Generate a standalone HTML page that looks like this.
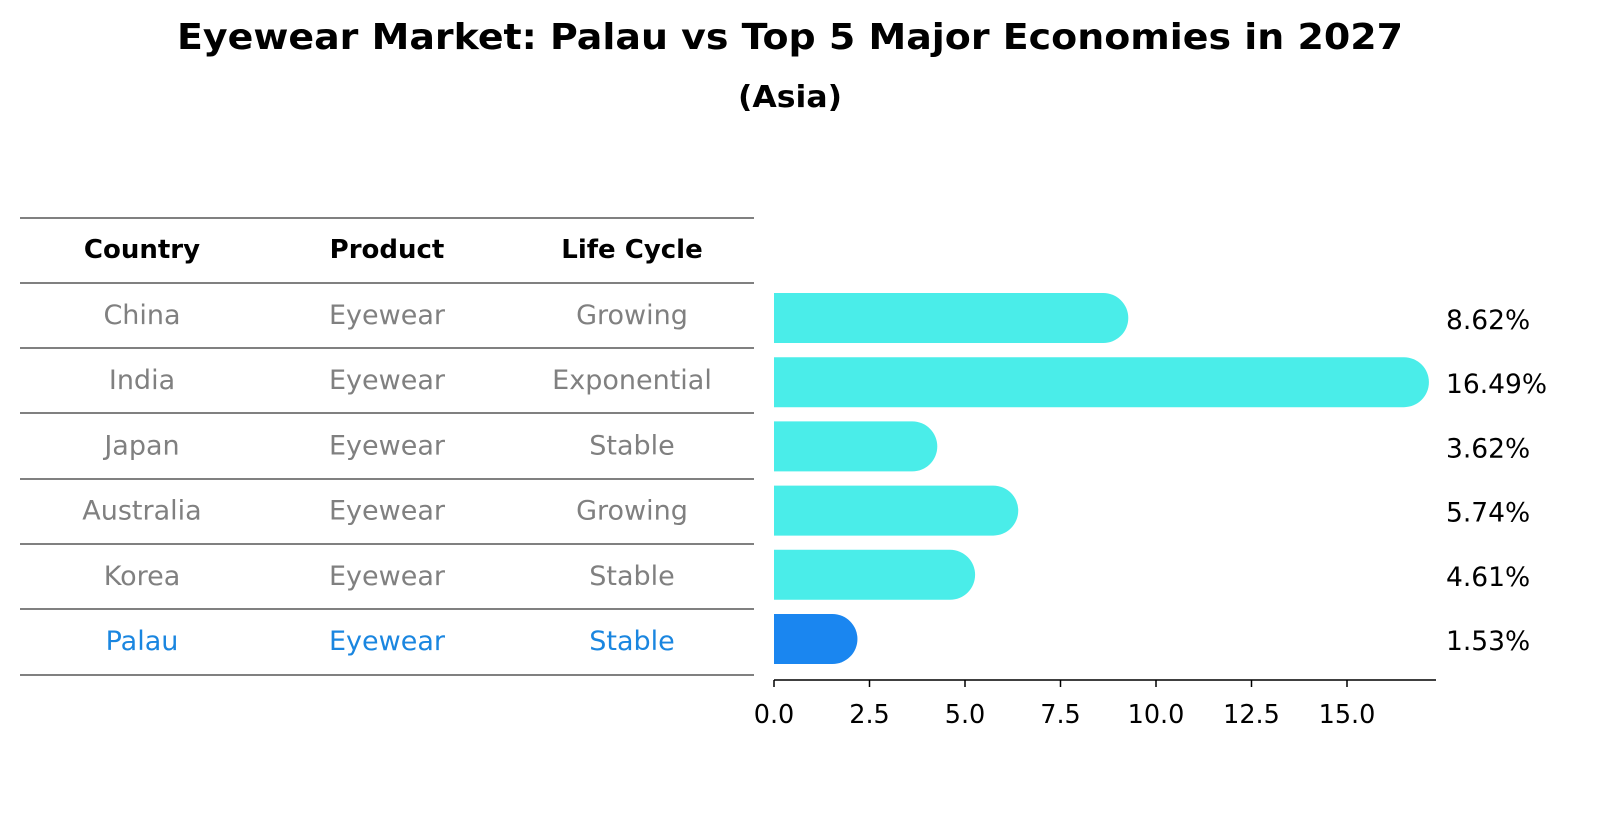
<!DOCTYPE html>
<html><head><meta charset="utf-8"><style>
body{margin:0;background:#fff;font-family:"DejaVu Sans","Liberation Sans",sans-serif;}
</style></head><body>
<svg width="1604" height="823" viewBox="0 0 1604 823" xmlns="http://www.w3.org/2000/svg" font-family="DejaVu Sans, Liberation Sans, sans-serif">
<text x="790" y="49" text-anchor="middle" font-size="36" font-weight="bold" textLength="1226" lengthAdjust="spacingAndGlyphs">Eyewear Market: Palau vs Top 5 Major Economies in 2027</text>
<text x="790" y="107" text-anchor="middle" font-size="30" font-weight="bold" textLength="104" lengthAdjust="spacingAndGlyphs">(Asia)</text>
<g id="table"></g>
<g id="bars"></g>
<g id="axis"></g>
</svg>
<script>
const countries=["China","India","Japan","Australia","Korea","Palau"];
const products=["Eyewear","Eyewear","Eyewear","Eyewear","Eyewear","Eyewear"];
const lifeCycles=["Growing","Exponential","Stable","Growing","Stable","Stable"];
const values=[8.62,16.49,3.62,5.74,4.61,1.53];
const ticks=[0,2.5,5,7.5,10,12.5,15];
const NS="http://www.w3.org/2000/svg";
function mk(t,a,p,txt){const e=document.createElementNS(NS,t);for(const k in a)e.setAttribute(k,a[k]);if(txt!==undefined)e.textContent=txt;p.appendChild(e);return e;}
const x0=774,pxPer=38.2;
const xs=v=>x0+v*pxPer;
const rowY=i=>318+i*64.2;
const tbl=document.getElementById('table');
const lines=[218,283,348,413,479,544,609,675];
lines.forEach(y=>{const l=mk('line',{x1:20,x2:754,y1:y,y2:y,stroke:'#000','stroke-width':1},tbl);});
const cols=[142,387,632];
["Country","Product","Life Cycle"].forEach((h,j)=>{const t=mk('text',{x:cols[j],y:258,'text-anchor':'middle','font-size':26,'font-weight':'bold'},tbl,h);});
countries.forEach((c,i)=>{const y=324+i*65.2;const col=i===countries.length-1?'#1a86e0':'#808080';
[c,products[i],lifeCycles[i]].forEach((v,j)=>{const t=mk('text',{x:cols[j],y:y,'text-anchor':'middle','font-size':27,fill:col},tbl,v);});});
const bg=document.getElementById('bars');
values.forEach((v,i)=>{const cy=rowY(i),h=50,r=25,xe=xs(v);const last=i===values.length-1;
const p=mk('path',{d:`M${x0},${cy-h/2} H${xe} A${r},${r} 0 0 1 ${xe},${cy+h/2} H${x0} Z`,fill:last?'#1a86f0':'#4aede9'},bg);

const t=mk('text',{x:1446,y:cy+11,'font-size':26.5},bg,v.toFixed(2)+'%');
});
const ax=document.getElementById('axis');
mk('line',{x1:x0,x2:1436,y1:680,y2:680,stroke:'#000','stroke-width':1.5},ax);
ticks.forEach(v=>{mk('line',{x1:xs(v),x2:xs(v),y1:680,y2:687,stroke:'#000','stroke-width':1.5},ax);
const t=mk('text',{x:xs(v),y:723,'text-anchor':'middle','font-size':25.5},ax,v.toFixed(1));
});
</script>
</body></html>
